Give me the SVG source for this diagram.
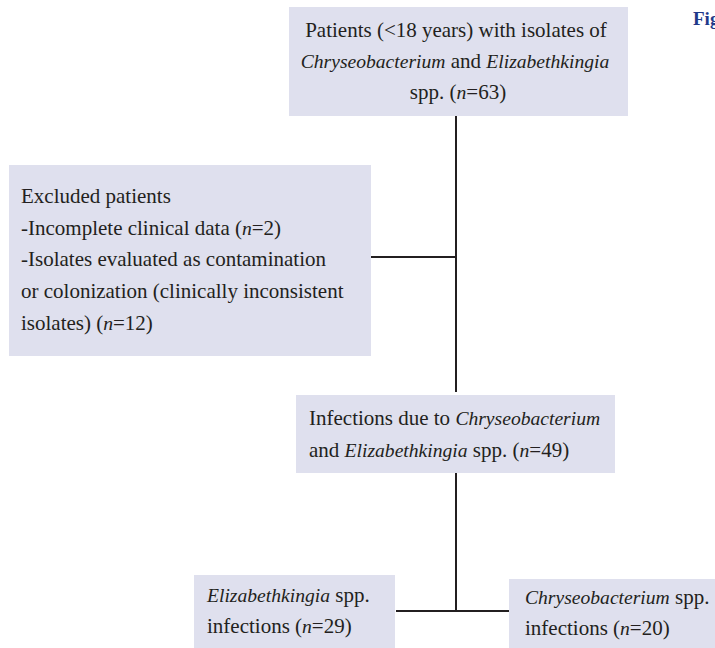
<svg xmlns="http://www.w3.org/2000/svg" width="715" height="648" viewBox="0 0 715 648">
<style>
.box{fill:#dfe0ee;}
.t{font-family:"Liberation Serif","Times New Roman",serif;font-size:21px;fill:#231f20;}
.i{font-style:italic;font-size:19.6px;}
.c{text-anchor:middle;}
.ln{stroke:#231f20;stroke-width:2;fill:none;}
.fig{font-family:"Liberation Serif","Times New Roman",serif;font-size:19px;font-weight:bold;fill:#1f3a8a;}
</style>
<rect width="715" height="648" fill="#ffffff"/>
<text class="fig" x="693" y="25">Fig</text>
<g id="connectors">
<line class="ln" x1="456" y1="116" x2="456" y2="392"/>
<line class="ln" x1="371" y1="257" x2="456" y2="257"/>
<line class="ln" x1="456" y1="473" x2="456" y2="612"/>
<line class="ln" x1="396" y1="611" x2="509" y2="611"/>
</g>
<g id="n-patients">
<rect class="box" x="289" y="7" width="339" height="109"/>
<text class="t c" x="456" y="37">Patients (&lt;18 years) with isolates of</text>
<text class="t c" x="455" y="68"><tspan class="i">Chryseobacterium</tspan> and <tspan class="i">Elizabethkingia</tspan></text>
<text class="t c" x="458" y="99">spp. (<tspan class="i">n</tspan>=63)</text>
</g>
<g id="n-excluded">
<rect class="box" x="9" y="165" width="362" height="191"/>
<text class="t" x="21" y="203">Excluded patients</text>
<text class="t" x="21" y="235">-Incomplete clinical data (<tspan class="i">n</tspan>=2)</text>
<text class="t" x="21" y="266">-Isolates evaluated as contamination</text>
<text class="t" x="21" y="298">or colonization (clinically inconsistent</text>
<text class="t" x="21" y="330">isolates) (<tspan class="i">n</tspan>=12)</text>
</g>
<g id="n-infections">
<rect class="box" x="296" y="395" width="319" height="78"/>
<text class="t" x="309" y="425">Infections due to <tspan class="i">Chryseobacterium</tspan></text>
<text class="t" x="309" y="457">and <tspan class="i">Elizabethkingia</tspan> spp. (<tspan class="i">n</tspan>=49)</text>
</g>
<g id="n-elizabethkingia">
<rect class="box" x="194" y="575" width="201" height="73"/>
<text class="t" x="207" y="602"><tspan class="i">Elizabethkingia</tspan> spp.</text>
<text class="t" x="207" y="633">infections (<tspan class="i">n</tspan>=29)</text>
</g>
<g id="n-chryseobacterium">
<rect class="box" x="509" y="579" width="206" height="69"/>
<text class="t" x="525" y="604"><tspan class="i">Chryseobacterium</tspan> spp.</text>
<text class="t" x="525" y="635">infections (<tspan class="i">n</tspan>=20)</text>
</g>
</svg>
